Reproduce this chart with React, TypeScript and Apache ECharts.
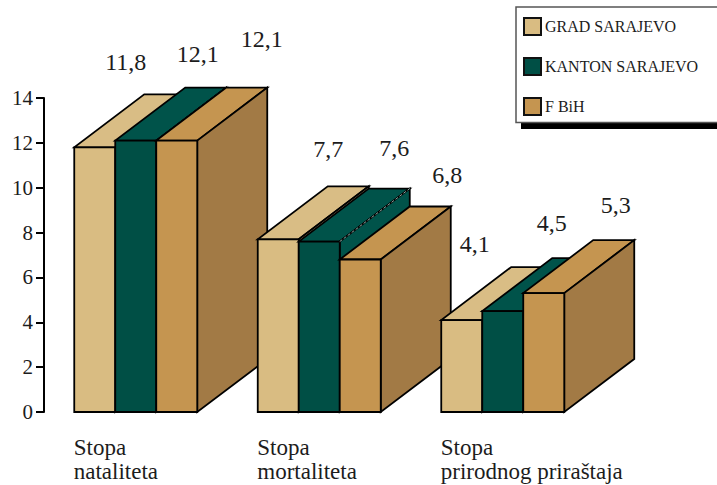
import React, { useEffect, useRef } from "react";
import * as echarts from "echarts";

const categories = ["Stopa\nnataliteta", "Stopa\nmortaliteta", "Stopa\nprirodnog priraštaja"];
const seriesNames = ["GRAD SARAJEVO", "KANTON SARAJEVO", "F BiH"];
const gradValues = [11.8, 7.7, 4.1];
const kantonValues = [12.1, 7.6, 4.5];
const fbihValues = [12.1, 6.8, 5.3];

// hand-placed value label offsets, from the top-centre of each bar's front face
const gradLabelOffsets = [[31, -85], [50, -90], [13, -76]];
const kantonLabelOffsets = [[62, -87], [75, -94], [49, -88]];
const fbihLabelOffsets = [[85, -102], [87, -84], [72, -88]];

const FRONT = ["#D9BC82", "#004F45", "#C59550"];
const TOP = ["#D9BD85", "#00534A", "#C59550"];
const SIDE = ["#D9BD85", "#00534A", "#A27A45"];
const SERIF = "'Liberation Serif', serif";
const TEXT = "#1c1c1c";
const BAR_FRACTION = 41 / 183.5;
const DEPTH_X = 70;
const DEPTH_Y = -53;

function renderBar(seriesIdx: number, offsets: number[][]) {
  return (params: any, api: any) => {
    const cat = api.value(0) as number;
    const value = api.value(1) as number;
    const top = api.coord([cat, value]);
    const base = api.coord([cat, 0]);
    const band = api.size([1, 0])[0];
    const w = band * BAR_FRACTION;
    const x0 = top[0] + (seriesIdx - 1.5) * w;
    const x1 = x0 + w;
    const yT = top[1];
    const yB = base[1];
    const z = cat * 10 + seriesIdx;
    const stroke = { stroke: "#000", lineWidth: 1.8, lineJoin: "miter" };
    const poly = (pts: number[][], fill: string) => ({
      type: "polygon",
      z2: z,
      shape: { points: pts },
      style: { fill, ...stroke },
    });
    const children: any[] = [
      poly([[x0, yT], [x1, yT], [x1 + DEPTH_X, yT + DEPTH_Y], [x0 + DEPTH_X, yT + DEPTH_Y]], TOP[seriesIdx]),
      poly([[x1, yT], [x1 + DEPTH_X, yT + DEPTH_Y], [x1 + DEPTH_X, yB + DEPTH_Y], [x1, yB]], SIDE[seriesIdx]),
      poly([[x0, yT], [x1, yT], [x1, yB], [x0, yB]], FRONT[seriesIdx]),
    ];
    if (seriesIdx === 1) {
      children.push({
        type: "line",
        z2: z,
        shape: { x1, y1: yT, x2: x1 + DEPTH_X, y2: yT + DEPTH_Y },
        style: { stroke: "#8fa5a0", lineWidth: 1, lineDash: [3, 2] },
      });
    }
    const off = offsets[cat];
    children.push({
      type: "text",
      z2: 100,
      style: {
        x: (x0 + x1) / 2 + off[0],
        y: yT + off[1],
        text: value.toFixed(1).replace(".", ","),
        fill: TEXT,
        font: `24px ${SERIF}`,
        align: "center",
        verticalAlign: "middle",
      },
    });
    return { type: "group", children };
  };
}

const valuesBySeries = [gradValues, kantonValues, fbihValues];
const offsetsBySeries = [gradLabelOffsets, kantonLabelOffsets, fbihLabelOffsets];

export default function App() {
  const ref = useRef<HTMLDivElement>(null);
  useEffect(() => {
    const chart = echarts.init(ref.current!, undefined, { renderer: "svg" });
    chart.setOption({
      animation: false,
      backgroundColor: "#fff",
      color: FRONT,
      grid: { left: 44, right: 122.5, top: 98, bottom: 73 },
      xAxis: {
        type: "category",
        data: categories,
        axisLine: { show: false },
        axisTick: { show: false },
        splitLine: { show: false },
        axisLabel: {
          margin: 23,
          interval: 0,
          formatter: (v: string) =>
            v.split("\n").map((l) => `{a|${l}}`).join("\n"),
          rich: {
            a: {
              width: 124,
              align: "left",
              fontFamily: SERIF,
              fontSize: 23,
              lineHeight: 24,
              color: TEXT,
            },
          },
        },
      },
      yAxis: {
        type: "value",
        min: 0,
        max: 14,
        interval: 2,
        splitLine: { show: false },
        axisLine: { show: true, lineStyle: { color: "#000", width: 2 } },
        axisTick: { show: true, length: 8, lineStyle: { color: "#000", width: 2 } },
        axisLabel: { margin: 11, fontFamily: SERIF, fontSize: 21, color: TEXT },
      },
      legend: {
        orient: "vertical",
        left: 523,
        top: 17,
        padding: 0,
        itemWidth: 17,
        itemHeight: 17,
        itemGap: 21,
        icon: "rect",
        selectedMode: false,
        textStyle: { fontFamily: SERIF, fontSize: 16, color: TEXT, padding: [0, 0, 0, -1] },
        data: seriesNames.map((name, i) => ({
          name,
          icon: "rect",
          itemStyle: { color: FRONT[i], borderColor: "#111", borderWidth: 2 },
        })),
      },
      graphic: {
        elements: [
          { type: "rect", z: 1, silent: true, shape: { x: 521, y: 122, width: 200, height: 7 }, style: { fill: "#000" } },
          {
            type: "rect",
            z: 1,
            silent: true,
            shape: { x: 516, y: 7, width: 210, height: 115.5 },
            style: { fill: "#fff", stroke: "#555", lineWidth: 1.5 },
          },
        ],
      },
      series: seriesNames.map((name, s) => ({
        name,
        type: "custom",
        silent: true,
        clip: false,
        encode: { x: 0, y: 1 },
        data: categories.map((_, i) => [i, valuesBySeries[s][i]]),
        renderItem: renderBar(s, offsetsBySeries[s]),
      })),
    });
    return () => chart.dispose();
  }, []);
  return <div ref={ref} style={{ position: "absolute", left: 0, top: 0, width: 717, height: 485 }} />;
}
